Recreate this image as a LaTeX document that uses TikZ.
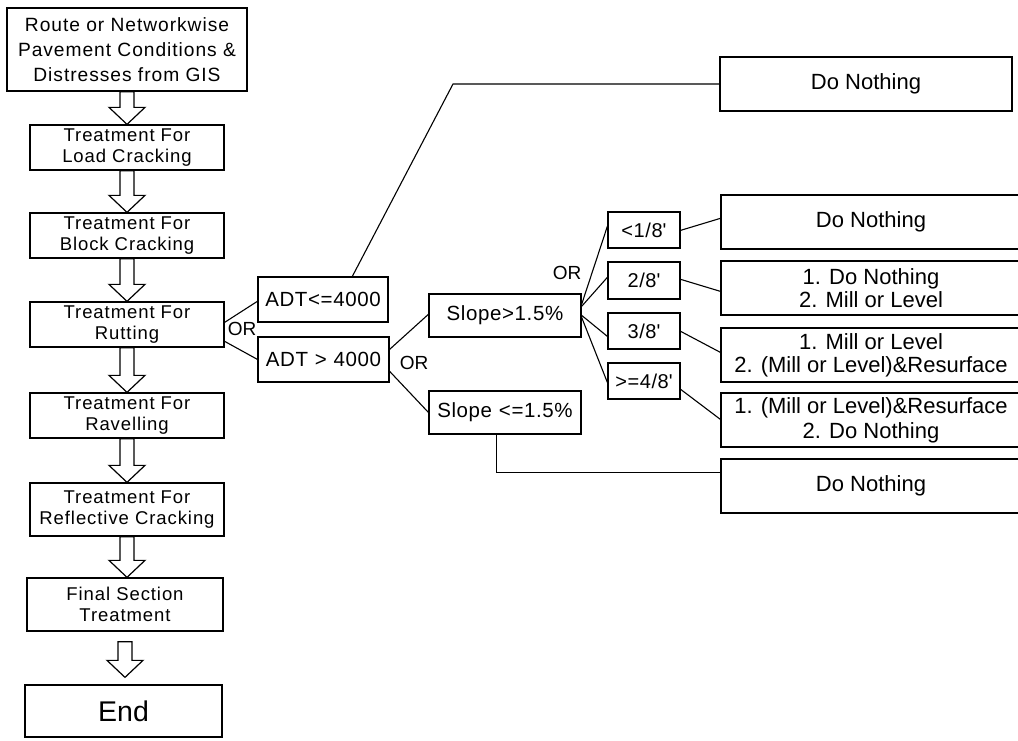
\documentclass[tikz,border=0pt]{standalone}
\usepackage{fontspec}
\setmainfont{Liberation Sans}
\newfontfamily\lsp[LetterSpace=5]{Liberation Sans}
\newfontfamily\lspm[LetterSpace=3]{Liberation Sans}
\usetikzlibrary{calc}
\newcommand{\hollowarrow}[2]{%
  \draw[barrow] let \p1=(#1), \p2=(#2) in
    ({\x1-7pt},{\y1}) -- ({\x1+7pt},{\y1}) -- ({\x1+7pt},{\y2+17pt}) --
    ({\x1+18pt},{\y2+17pt}) -- ({\x1},{\y2}) -- ({\x1-18pt},{\y2+17pt}) --
    ({\x1-7pt},{\y2+17pt}) -- cycle;}
\tikzset{
  box/.style={draw, line width=1.3pt, rectangle, inner sep=0pt, align=center},
  lbox/.style={box, font=\lsp\fontsize{18.5}{21.5}\selectfont, minimum width=194pt, minimum height=45pt},
  mbox/.style={box, font=\lspm\fontsize{20.5}{21}\selectfont, minimum height=45pt},
  sbox/.style={box, font=\lspm\fontsize{20}{20}\selectfont, minimum width=72pt, minimum height=36pt},
  rbox/.style={box, font=\fontsize{22}{23}\selectfont, minimum width=300pt, minimum height=54pt},
  ortext/.style={font=\fontsize{19}{20}\selectfont, inner sep=0pt},
  conn/.style={line width=1.1pt},
  barrow/.style={line width=1.2pt, line join=miter}
}
\begin{document}
\begin{tikzpicture}[x=1pt,y=-1pt]
\clip (0,0) rectangle (1018,740);
\fill[white] (0,0) rectangle (1018,740);
% left column
\node[lbox, minimum width=240pt, minimum height=83pt, font=\lsp\fontsize{19.2}{25}\selectfont] (b1) at (127,49.5) {Route or Networkwise\\Pavement Conditions \&\\Distresses from GIS};
\node[lbox] (b2) at (127,147.5) {Treatment For\\Load Cracking};
\node[lbox] (b3) at (127,235.5) {Treatment For\\Block Cracking};
\node[lbox] (b4) at (127,324.5) {Treatment For\\Rutting};
\node[lbox] (b5) at (127,415.5) {Treatment For\\Ravelling};
\node[lbox, minimum height=53pt] (b6) at (127,509.5) {Treatment For\\Reflective Cracking};
\node[lbox, minimum height=53pt, minimum width=196pt] (b7) at (125,604.5) {Final Section\\Treatment};
\node[box, minimum width=197pt, minimum height=52pt, font=\fontsize{28.5}{30}\selectfont] (end) at (123.5,711) {End};
\hollowarrow{b1.south}{b2.north}
\hollowarrow{b2.south}{b3.north}
\hollowarrow{b3.south}{b4.north}
\hollowarrow{b4.south}{b5.north}
\hollowarrow{b5.south}{b6.north}
\hollowarrow{b6.south}{b7.north}
\hollowarrow{$(b7.south)+(0,10)$}{$(end.north)+(0,-7)$}
% ADT
\node[mbox, minimum width=130pt] (adt1) at (323,299.5) {ADT<=4000};
\node[mbox, minimum width=131pt] (adt2) at (323.5,359.5) {ADT\,\,>\,\,4000};
\node[mbox, minimum width=152pt, minimum height=43pt] (s1) at (505,315.5) {Slope>1.5\%};
\node[mbox, minimum width=152pt, minimum height=43pt] (s2) at (505,412.5) {Slope\,\,<=1.5\%};
% small boxes
\node[sbox] (q1) at (644,230) {<1/8\textquotesingle};
\node[sbox, minimum height=37pt] (q2) at (644,280.5) {2/8\textquotesingle};
\node[sbox] (q3) at (644,331) {3/8\textquotesingle};
\node[sbox] (q4) at (644,381) {>=4/8\textquotesingle};
% result boxes
\node[rbox, minimum width=292pt] (do0) at (866,84) {Do Nothing};
\node[rbox] (do1) at (871,222) {Do Nothing};
\node[rbox] (do2) at (871,288) {1. Do Nothing\\2. Mill or Level};
\node[rbox] (do3) at (871,355) {1. Mill or Level\\2. (Mill or Level)\&Resurface};
\node[rbox, font=\fontsize{22}{25}\selectfont] (do4) at (871,420) {1. (Mill or Level)\&Resurface\\2. Do Nothing};
\node[rbox] (do5) at (871,486) {Do Nothing};
% OR labels
\node[ortext] (or1) at (242,329) {OR};
\node[ortext] (or2) at (414,363) {OR};
\node[ortext] (or3) at (567,273) {OR};
% connectors
\draw[conn] ($(b4.north east)+(0,21)$) -- ($(adt1.north west)+(0,25)$);
\draw[conn] ($(b4.north east)+(0,40)$) -- ($(adt2.north west)+(0,23)$);
\coordinate (k1) at (453,84);
\draw[conn] ($(adt1.north west)+(95,0)$) -- (k1) -- (do0.west);
\draw[conn] ($(adt2.north east)+(0,13)$) -- ($(s1.north west)+(0,21)$);
\draw[conn] ($(adt2.north east)+(0,35)$) -- ($(s2.north west)+(0,22)$);
\draw[conn] ($(s2.south west)+(68,0)$) |- ($(do5.north west)+(0,14)$);
\draw[conn] ($(s1.north east)+(0,11)$) -- ($(q1.north west)+(0,15)$);
\draw[conn] ($(s1.north east)+(0,13)$) -- ($(q2.north west)+(0,16)$);
\draw[conn] ($(s1.north east)+(0,22)$) -- ($(q3.north west)+(0,24)$);
\draw[conn] ($(s1.north east)+(0,24)$) -- ($(q4.north west)+(0,20)$);
\draw[conn] ($(q1.north east)+(0,19)$) -- ($(do1.north west)+(0,24)$);
\draw[conn] ($(q2.north east)+(0,18)$) -- ($(do2.north west)+(0,31)$);
\draw[conn] ($(q3.north east)+(0,19)$) -- ($(do3.north west)+(0,25)$);
\draw[conn] ($(q4.north east)+(0,27)$) -- ($(do4.north west)+(0,27)$);
\end{tikzpicture}
\end{document}
